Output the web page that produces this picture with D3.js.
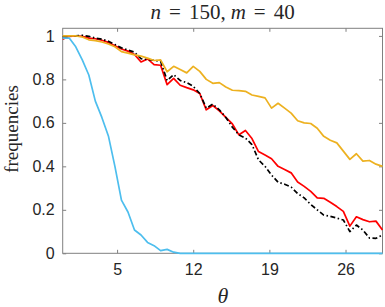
<!DOCTYPE html>
<html>
<head>
<meta charset="utf-8">
<script src="https://cdn.jsdelivr.net/npm/d3@7"></script>
<style>
  body { margin: 0; background: #fff; }
</style>
</head>
<body>
<div id="chart"></div>
<script>
// theta grid (x values)
var theta = [0, 0.6, 1.2, 1.8, 2.4, 3, 3.6, 4.2, 4.8, 5.4,
  6, 6.6, 7.2, 7.8, 8.4, 9, 9.6, 10.2, 10.8, 11.4,
  12, 12.6, 13.2, 13.8, 14.4, 15, 15.6, 16.2, 16.8, 17.4,
  18, 18.6, 19.2, 19.8, 20.4, 21, 21.6, 22.2, 22.8, 23.4,
  24, 24.6, 25.2, 25.8, 26.4, 27, 27.6, 28.2, 28.8, 29.4];

// series values
var redVals = [0.985, 0.998, 1.0, 0.998, 0.99, 0.987, 0.98, 0.97, 0.955, 0.94,
  0.93, 0.915, 0.88, 0.894, 0.868, 0.865, 0.776, 0.805, 0.773, 0.762,
  0.752, 0.735, 0.66, 0.68, 0.655, 0.625, 0.595, 0.545, 0.565, 0.528,
  0.468, 0.452, 0.435, 0.40, 0.385, 0.37, 0.328, 0.308, 0.285, 0.255,
  0.253, 0.235, 0.215, 0.193, 0.125, 0.168, 0.155, 0.145, 0.148, 0.107];

var blackVals = [0.995, 1.0, 1.0, 1.003, 0.998, 0.99, 0.985, 0.975, 0.96, 0.945,
  0.935, 0.925, 0.895, 0.891, 0.888, 0.883, 0.795, 0.822, 0.795, 0.785,
  0.768, 0.735, 0.668, 0.686, 0.66, 0.625, 0.58, 0.545, 0.53, 0.50,
  0.43, 0.40, 0.36, 0.327, 0.318, 0.305, 0.275, 0.255, 0.225, 0.20,
  0.176, 0.17, 0.162, 0.153, 0.10, 0.13, 0.107, 0.07, 0.069, 0.084];

var orangeVals = [1.0, 1.0, 1.0, 0.995, 0.982, 0.978, 0.972, 0.963, 0.95, 0.928,
  0.921, 0.913, 0.907, 0.898, 0.887, 0.89, 0.835, 0.86, 0.845, 0.83,
  0.86, 0.837, 0.80, 0.782, 0.785, 0.765, 0.75, 0.748, 0.745, 0.728,
  0.722, 0.715, 0.668, 0.69, 0.668, 0.645, 0.61, 0.60, 0.597, 0.575,
  0.538, 0.52, 0.508, 0.47, 0.432, 0.458, 0.424, 0.427, 0.41, 0.40];

var blueVals = [0.99, 0.99, 0.95, 0.89, 0.82, 0.70, 0.625, 0.54, 0.40, 0.245,
  0.19, 0.107, 0.084, 0.05, 0.035, 0.012, 0.018, 0.005, 0, 0,
  0, 0, 0, 0, 0, 0, 0, 0, 0, 0,
  0, 0, 0, 0, 0, 0, 0, 0, 0, 0,
  0, 0, 0, 0, 0, 0, 0, 0, 0, 0];

var xTicks = [5, 12, 19, 26];
var yTicks = [0, 0.2, 0.4, 0.6, 0.8, 1];

// set the dimensions and margins of the graph
var margin = {top: 28.3, right: 2.5, bottom: 53.7, left: 62.7},
    width = 385 - margin.left - margin.right,
    height = 307 - margin.top - margin.bottom;

var svg = d3.select("#chart")
  .append("svg")
  .attr("width", 385)
  .attr("height", 307)
  .append("g")
  .attr("transform", "translate(" + margin.left + "," + margin.top + ")");

var x = d3.scaleLinear().domain([0, 29.4]).range([0, width]);
var y = d3.scaleLinear().domain([0, 1.035]).range([height, 0]);

var axisColor = "#808080";
var tickLen = 3.5;

// box
svg.append("rect")
  .attr("x", 0).attr("y", 0)
  .attr("width", width).attr("height", height)
  .style("fill", "none")
  .style("stroke", axisColor)
  .style("stroke-width", 1);

// inward ticks, bottom + top
var xAxisB = svg.append("g")
  .attr("transform", "translate(0," + height + ")")
  .call(d3.axisBottom(x).tickValues(xTicks).tickSizeInner(-tickLen).tickSizeOuter(0).tickPadding(10));
var xAxisT = svg.append("g")
  .call(d3.axisTop(x).tickValues(xTicks).tickSizeInner(-tickLen).tickSizeOuter(0).tickFormat(""));
var yAxisL = svg.append("g")
  .call(d3.axisLeft(y).tickValues(yTicks).tickSizeInner(-tickLen).tickSizeOuter(0).tickPadding(8)
    .tickFormat(function(d) { return d3.format("")(d); }));
var yAxisR = svg.append("g")
  .attr("transform", "translate(" + width + ",0)")
  .call(d3.axisRight(y).tickValues(yTicks).tickSizeInner(-tickLen).tickSizeOuter(0).tickFormat(""));

[xAxisB, xAxisT, yAxisL, yAxisR].forEach(function(a) {
  a.select(".domain").remove();
  a.selectAll(".tick line").style("stroke", axisColor);
  a.selectAll("text")
    .style("font-family", "'Liberation Sans', Arial, sans-serif")
    .style("font-size", "16px")
    .style("fill", "#262626");
});

// lines
var line = d3.line()
  .x(function(d, i) { return x(theta[i]); })
  .y(function(d) { return y(d); });

var series = [
  {vals: redVals, color: "#ff0000", dash: null},
  {vals: blackVals, color: "#000000", dash: "5,2.5,1.5,2.5"},
  {vals: orangeVals, color: "#edb120", dash: null},
  {vals: blueVals, color: "#4dbeee", dash: null}
];

svg.selectAll(".series")
  .data(series)
  .enter()
  .append("path")
  .attr("class", "series")
  .attr("d", function(d) { return line(d.vals); })
  .style("fill", "none")
  .style("stroke", function(d) { return d.color; })
  .style("stroke-width", 1.7)
  .style("stroke-linejoin", "round")
  .style("stroke-dasharray", function(d) { return d.dash; });

// title
var title = d3.select("svg").append("text")
  .attr("x", 222.6)
  .attr("y", 19)
  .attr("text-anchor", "middle")
  .style("font-family", "'Liberation Serif', 'Times New Roman', serif")
  .style("font-size", "21px")
  .style("fill", "#262626");
title.append("tspan").style("font-style", "italic").text("n");
title.append("tspan").attr("dx", 8).text("=");
title.append("tspan").attr("dx", 8).text("150,");
title.append("tspan").attr("dx", 5).style("font-style", "italic").text("m");
title.append("tspan").attr("dx", 8).text("=");
title.append("tspan").attr("dx", 8).text("40");

// y label
d3.select("svg").append("text")
  .attr("transform", "translate(18,129) rotate(-90)")
  .attr("text-anchor", "middle")
  .style("font-family", "'Liberation Serif', 'Times New Roman', serif")
  .style("font-size", "19px")
  .style("fill", "#262626")
  .text("frequencies");

// x label
d3.select("svg").append("text")
  .attr("x", 223)
  .attr("y", 303)
  .attr("text-anchor", "middle")
  .style("font-family", "'Liberation Serif', 'Times New Roman', serif")
  .style("font-style", "italic")
  .style("font-size", "22px")
  .style("fill", "#262626")
  .text("θ");
</script>
</body>
</html>
